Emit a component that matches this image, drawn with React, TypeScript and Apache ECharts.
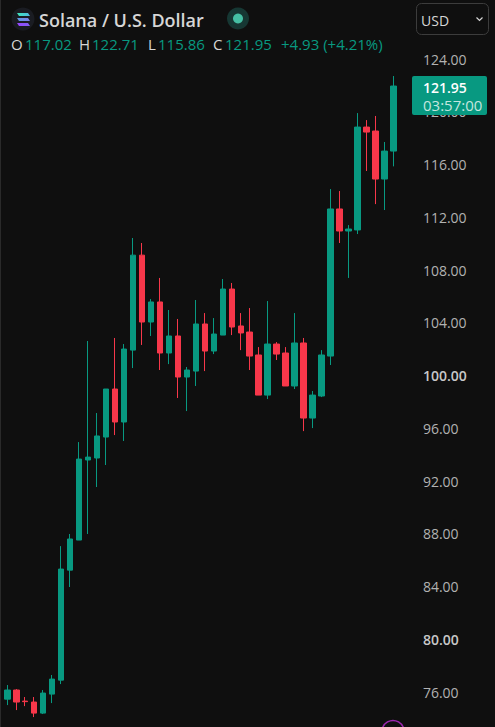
import React, { useEffect, useRef } from "react";
import * as echarts from "echarts";

const opens = [75.47,76.16,75.32,75.25,74.41,75.85,76.91,85.25,87.53,93.60,93.75,95.34,98.98,96.48,101.93,109.13,104.06,105.58,101.71,103.00,99.89,100.34,103.91,101.86,103.07,106.56,103.76,103.30,101.56,98.52,102.39,101.71,99.21,102.47,96.78,98.45,101.48,112.63,110.96,111.04,118.84,118.54,114.90,117.02];
const closes = [76.16,75.25,75.28,74.41,75.93,76.99,85.33,87.61,93.67,93.82,95.42,98.98,96.48,102.01,109.13,104.06,105.58,101.71,103.00,99.89,100.42,103.91,101.86,103.15,106.56,103.68,103.23,101.48,98.52,102.39,101.63,99.21,102.47,96.78,98.52,101.56,112.63,110.96,111.11,118.84,118.46,114.90,117.02,121.95];
const lows = [75.02,74.64,74.94,74.11,74.34,75.17,76.61,83.97,87.53,87.99,91.55,93.22,95.49,95.04,100.57,102.32,103.00,100.42,100.87,98.30,97.31,99.21,100.34,101.63,103.07,103.07,101.93,100.42,98.52,98.22,101.18,99.21,98.98,95.79,96.02,98.37,100.80,110.05,107.40,110.73,115.51,113.00,112.55,115.86];
const highs = [76.54,76.23,75.63,75.63,76.16,77.30,87.07,87.99,94.96,102.62,97.16,98.98,102.85,102.39,110.43,110.05,105.80,107.40,104.97,104.29,100.65,105.73,104.74,104.36,107.32,107.02,104.74,105.12,102.16,105.65,102.54,102.16,104.74,102.85,98.83,101.93,114.14,113.99,111.41,119.90,119.37,119.68,117.71,122.71];
const priceMin = 72;
const priceMax = 128;
const priceStep = 4;
const hiddenTicks = [72, 128];
const strongTicks = [80, 100];
const titleText = "Solana / U.S. Dollar";
const currency = "USD";
const ohlcLetters = ["O", "H", "L", "C"];
const ohlcValues = ["117.02", "122.71", "115.86", "121.95"];
const changeText = "+4.93 (+4.21%)";
const lastPrice = "121.95";
const countdown = "03:57:00";

const UP = "#089981";
const DOWN = "#F7374A";
const BG = "#0F0F0F";
const FONT = "'Open Sans', Roboto, sans-serif";
const TOP = 200;

const letterX = [11, 79, 148, 213];
const valueX = [25, 92, 158, 225];

function bar(y: number, c1: string, c2: string) {
  return {
    type: "polygon",
    z: TOP,
    shape: { points: [[19, y + 3], [30, y + 3], [28, y], [17, y]] },
    style: { fill: new echarts.graphic.LinearGradient(0, 0, 1, 0, [{ offset: 0, color: c1 }, { offset: 1, color: c2 }]) },
  };
}

export default function App() {
  const ref = useRef<HTMLDivElement>(null);
  useEffect(() => {
    const chart = echarts.init(ref.current!, undefined, { renderer: "svg" });
    const ohlcText: any[] = [];
    ohlcLetters.forEach((l, i) => {
      ohlcText.push({ type: "text", z: TOP, x: letterX[i], y: 44, style: { text: l, fill: "#D6D6D6", font: `15px ${FONT}`, textVerticalAlign: "middle" } });
      ohlcText.push({ type: "text", z: TOP, x: valueX[i], y: 44, style: { text: ohlcValues[i], fill: UP, font: `15px ${FONT}`, textVerticalAlign: "middle" } });
    });
    chart.setOption({
      animation: false,
      backgroundColor: BG,
      grid: { left: 2.8, top: 6.24, width: 395.1, height: 738.66, containLabel: false },
      xAxis: {
        type: "category",
        data: opens.map((_, i) => String(i + 1)),
        show: false,
        boundaryGap: true,
      },
      yAxis: {
        type: "value",
        position: "right",
        z: 1,
        min: priceMin,
        max: priceMax,
        interval: priceStep,
        splitLine: { show: false },
        axisLine: { show: false },
        axisTick: { show: false },
        axisLabel: {
          inside: false,
          margin: 25,
          showMinLabel: true,
          showMaxLabel: true,
          color: "#B2B2B2",
          fontFamily: FONT,
          fontSize: 14,
          formatter: (v: number) => {
            if (hiddenTicks.includes(v)) return "";
            const s = v.toFixed(2);
            return strongTicks.includes(v) ? `{b|${s}}` : s;
          },
          rich: { b: { color: "#C8C8C8", fontFamily: FONT, fontSize: 14, fontWeight: 600 } },
        },
      },
      series: [
        {
          type: "candlestick",
          barWidth: 6,
          itemStyle: { color: UP, color0: DOWN, borderColor: UP, borderColor0: DOWN, borderWidth: 1 },
          data: opens.map((o, i) => [o, closes[i], lows[i], highs[i]]),
          silent: true,
        },
      ],
      graphic: [
        { type: "line", z: TOP, shape: { x1: 0.5, y1: 0, x2: 0.5, y2: 727 }, style: { stroke: "#2A2A2A", lineWidth: 1 } },
        { type: "circle", z: TOP - 1, shape: { cx: 23, cy: 19, r: 11.5 }, style: { fill: "#1A1C22" } },
        bar(13, "#3EE6B8", "#4FB8E0"),
        bar(18, "#5C9BE0", "#7F7FE8"),
        bar(23, "#9945FF", "#7F5FF0"),
        { type: "text", z: TOP, x: 39, y: 20, style: { text: titleText, fill: "#D6D6D6", font: `600 18px ${FONT}`, textVerticalAlign: "middle" } },
        { type: "circle", z: TOP - 1, shape: { cx: 238, cy: 18.5, r: 11 }, style: { fill: "#163733" } },
        { type: "circle", z: TOP, shape: { cx: 238, cy: 18.5, r: 5 }, style: { fill: "#45BFA3" } },
        { type: "rect", z: TOP - 1, shape: { x: 416.5, y: 3.5, width: 72, height: 31, r: 5 }, style: { fill: BG, stroke: "#3C3C3C", lineWidth: 1 } },
        { type: "text", z: TOP, x: 421, y: 20, style: { text: currency, fill: "#D6D6D6", font: `14px ${FONT}`, textVerticalAlign: "middle" } },
        { type: "polyline", z: TOP, shape: { points: [[476.5, 17.5], [479.5, 20.5], [482.5, 17.5]] }, style: { stroke: "#D6D6D6", lineWidth: 1.2, fill: "none" } },
        ...ohlcText,
        { type: "text", z: TOP, x: 281, y: 44, style: { text: changeText, fill: UP, font: `15px ${FONT}`, textVerticalAlign: "middle" } },
        { type: "rect", z: TOP - 1, shape: { x: 412, y: 76, width: 75, height: 39, r: 2 }, style: { fill: UP } },
        { type: "text", z: TOP, x: 423, y: 87, style: { text: lastPrice, fill: "#FFFFFF", font: `600 14px ${FONT}`, textVerticalAlign: "middle" } },
        { type: "text", z: TOP, x: 423, y: 105, style: { text: countdown, fill: "#C4E6DF", font: `15px ${FONT}`, textVerticalAlign: "middle" } },
        { type: "circle", z: TOP, shape: { cx: 393, cy: 731.5, r: 11 }, style: { fill: "none", stroke: "#9C27B0", lineWidth: 1.5 } },
      ],
    });
    return () => chart.dispose();
  }, []);
  return (
    <div style={{ position: "absolute", left: 0, top: 0, width: 495, height: 727, overflow: "hidden", background: BG }}>
      <div ref={ref} style={{ width: 495, height: 746 }} />
    </div>
  );
}
